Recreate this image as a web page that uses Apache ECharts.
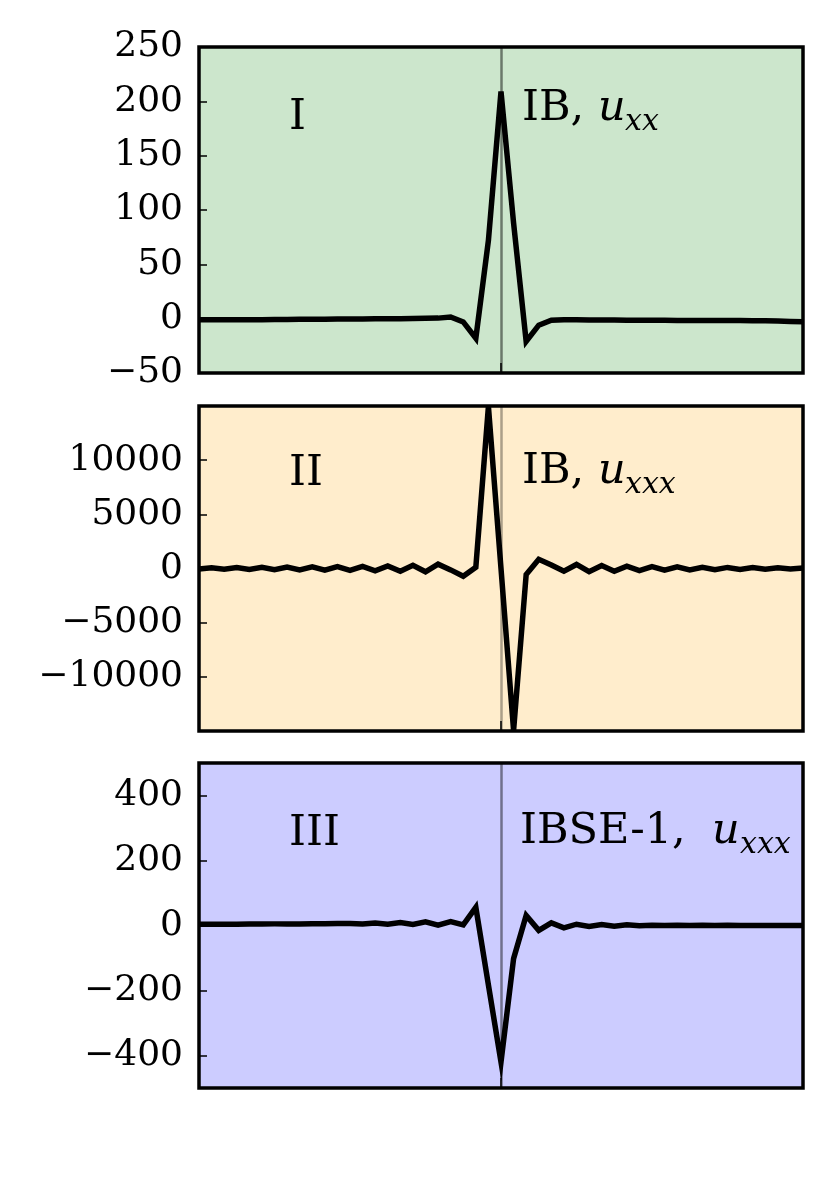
<!DOCTYPE html>
<html><head><meta charset="utf-8">
<script src="https://cdn.jsdelivr.net/npm/echarts@6/dist/echarts.min.js"></script>
<style>html,body{margin:0;padding:0;background:#fff}#c{width:830px;height:1179px}</style>
</head><body><div id="c"></div>
<script>
// grid point index (49 samples, spike at the centre index 24)
const xs = [0,1,2,3,4,5,6,7,8,9,10,11,12,13,14,15,16,17,18,19,20,21,22,23,24,25,26,27,28,29,30,31,32,33,34,35,36,37,38,39,40,41,42,43,44,45,46,47,48];
const centerX = 24;

// Panel I : IB, u_xx
const uxxIB = [-1,-1,-1,-1,-1,-1,-0.8,-0.8,-0.6,-0.6,-0.5,-0.4,-0.3,-0.2,-0.1,0,0,0.2,0.3,0.5,
  1.5,-3,-18,72,209,88,-21,-6,-1.5,
  -1,-1,-1.2,-1.2,-1.3,-1.4,-1.5,-1.5,-1.5,-1.6,-1.6,-1.7,-1.7,-1.8,-1.8,-2,-2,-2.2,-2.5,-2.8];
// Panel II : IB, u_xxx
const uxxxIB = [-40,60,-70,90,-90,110,-110,130,-130,150,-150,170,-180,200,-210,240,-250,290,-300,400,
  -130,-720,120,14950,0,-14950,-560,850,330,
  -250,370,-300,280,-250,220,-200,180,-160,150,-130,120,-110,100,-90,80,-70,60,-50,40];
// Panel III : IBSE-1, u_xxx
const uxxxIBSE = [4,4,4,4,4.5,4.5,5,5,5,5.5,5.5,6,6,
  5,8,4,9,3,11,1,12,2,56,-183,-420,-102,31,-15,8,-7,4,-3,3,-2,2,-1,1,0,1,0,0.5,0,0.5,0,0,0,0,0,0];

const yTicks1 = [-50,0,50,100,150,200,250];
const yTicks2 = [-10000,-5000,0,5000,10000];
const yTicks3 = [-400,-200,0,200,400];

const panelNames = ['I','II','III'];
const panelMain = ['IB,','IB,','IBSE-1,'];
const panelSub = ['xx','xxx','xxx'];

const bgColors = ['#cce6cc','#ffedcc','#ccccff'];
const vlineColors = ['rgba(0,0,0,0.48)','rgba(0,0,0,0.33)','rgba(0,0,0,0.45)'];

const grids = [
  {left:199, top:47, width:604, height:326},
  {left:199, top:406, width:604, height:325},
  {left:199, top:763, width:604, height:325}
];
const yRanges = [[-50,250,50],[-15000,15000,5000],[-500,500,100]];
const yTickSets = [yTicks1, yTicks2, yTicks3];
const seriesVals = [uxxIB, uxxxIB, uxxxIBSE];

const minus = v => (v < 0 ? '\u2212' + Math.abs(v) : String(v));
const tickFont = {fontFamily:'DejaVu Serif', fontSize:36, color:'#000'};

const option = {
  animation:false,
  backgroundColor:'#fff',
  grid: grids.map((g,i)=>Object.assign({show:true, backgroundColor:bgColors[i], borderColor:'#000', borderWidth:3.5}, g)),
  xAxis: grids.map((g,i)=>({
    type:'value', gridIndex:i, min:0, max:48, interval:24, position:'bottom',
    axisLine:{show:false, onZero:false}, splitLine:{show:false},
    axisLabel:{show:false},
    axisTick:{show:true, inside:true, length:10, customValues:[centerX], lineStyle:{color:'#000', width:1.5}}
  })),
  yAxis: grids.map((g,i)=>({
    type:'value', gridIndex:i, min:yRanges[i][0], max:yRanges[i][1], interval:yRanges[i][2],
    axisLine:{show:false, onZero:false}, splitLine:{show:false},
    axisTick:{show:true, inside:true, length:8, customValues:yTickSets[i], lineStyle:{color:'#000', width:1.5}},
    axisLabel:Object.assign({margin:16, customValues:yTickSets[i], formatter:minus}, tickFont)
  })),
  series: seriesVals.map((vals,i)=>({
    type:'line', xAxisIndex:i, yAxisIndex:i, symbol:'none', clip:true,
    data: xs.map((x,k)=>[x, vals[k]]),
    lineStyle:{color:'#000', width:5.5, join:'miter'},
    markLine:{silent:true, symbol:'none', label:{show:false},
      lineStyle:{color:vlineColors[i], width:2.5, type:'solid'},
      data:[{xAxis:centerX}]}
  })),
  graphic: []
};

// baselines (px) of the panel annotations
const nameBase = [131, 487, 847];
const textBase = [122, 485, 845];
const mainLeft = [522, 522, 520];
const uLeft = [598, 598, 712];
const subLeft = [625, 625, 740];
const F = 43, FS = 30;
for (let i=0;i<3;i++){
  option.graphic.push(
    {type:'text', left:289, top:nameBase[i]-0.8*F, z:100,
      style:{text:panelNames[i], font:F+'px "DejaVu Serif"', fill:'#000'}},
    {type:'text', left:mainLeft[i], top:textBase[i]-0.8*F, z:100,
      style:{text:panelMain[i], font:F+'px "DejaVu Serif"', fill:'#000'}},
    {type:'text', left:uLeft[i], top:textBase[i]-0.8*F, z:100,
      style:{text:'u', font:'italic '+F+'px "DejaVu Serif"', fill:'#000'}},
    {type:'text', left:subLeft[i], top:textBase[i]+9-0.8*FS, z:100,
      style:{text:panelSub[i], font:'italic '+FS+'px "DejaVu Serif"', fill:'#000'}}
  );
}

const chart = echarts.init(document.getElementById('c'), null, {renderer:'canvas'});
chart.setOption(option);
</script></body></html>
